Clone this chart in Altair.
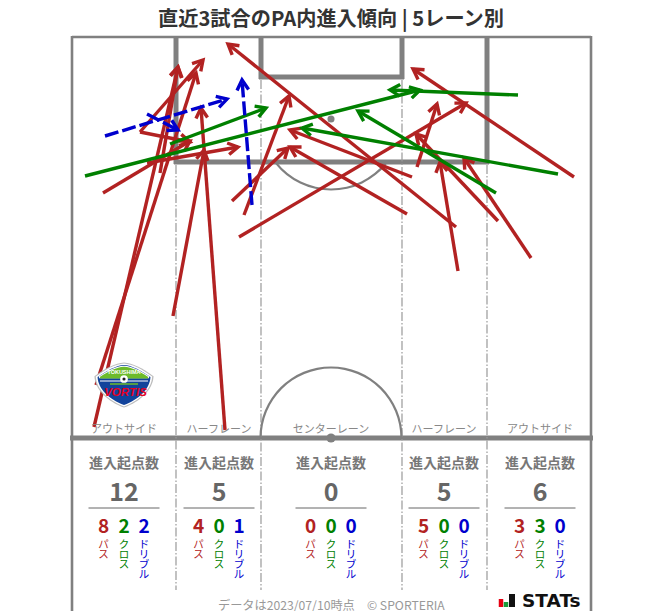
import math
import altair as alt
import pandas as pd

RED, GREEN, BLUE = "#b22222", "#008000", "#0000cd"
FIELD = "#808080"
FONT = "Noto Sans CJK JP"

# arrows: start x, start y, end x, end y (reading from the picture)
pass_arrows = [
    (94, 427, 178, 67), (96, 385, 196, 73), (140, 132, 203, 60), (140, 132, 190, 142),
    (103, 193, 190, 141), (147, 163, 238, 147), (160, 173, 178, 67),
    (173, 316, 204, 150), (225, 430, 201, 108), (232, 201, 288, 148), (244, 215, 289, 96),
    (239, 237, 466, 103), (407, 214, 290, 147), (412, 177, 290, 130), (456, 227, 228, 44),
    (417, 167, 437, 104), (498, 221, 416, 134), (458, 271, 440, 162),
    (531, 258, 464, 158), (574, 177, 413, 69),
]
cross_arrows = [
    (85, 176, 420, 90), (170, 144, 266, 108), (518, 95, 390, 90),
    (558, 174, 302, 128), (496, 193, 358, 111),
]
dribble_arrows = [
    (105, 136, 227, 99), (147, 114, 178, 130), (252, 205, 242, 80),
]

lane_centers = [124, 219, 331, 444, 540]
lane_names = ["アウトサイド", "ハーフレーン", "センターレーン", "ハーフレーン", "アウトサイド"]
totals = ["12", "5", "0", "5", "6"]
pass_counts = ["8", "4", "0", "5", "3"]
cross_counts = ["2", "0", "0", "0", "3"]
dribble_counts = ["2", "1", "0", "0", "0"]
kinds = [("パ|ス", RED, -20.5), ("ク|ロ|ス", GREEN, 0), ("ド|リ|ブ|ル", BLUE, 20)]

X = alt.Scale(domain=[8, 655], range=[0, 647], nice=False, zero=False)
Y = alt.Scale(domain=[8, 611], range=[0, 603], nice=False, zero=False)
xe = lambda f="x": alt.X(f"{f}:Q", scale=X, axis=None)
ye = lambda f="y": alt.Y(f"{f}:Q", scale=Y, axis=None)

def segs(rows, color, width, dash=None):
    df = pd.DataFrame(rows, columns=["x", "y", "x2", "y2"])
    kw = dict(color=color, strokeWidth=width, strokeCap="butt")
    if dash:
        kw["strokeDash"] = dash
    return alt.Chart(df).mark_rule(**kw).encode(x=xe(), y=ye(), x2="x2:Q", y2="y2:Q")

def arrows(rows, color, dash=None):
    df = pd.DataFrame(rows, columns=["x", "y", "x2", "y2"])
    df["angle"] = [(math.degrees(math.atan2(r[2] - r[0], r[1] - r[3])) + 360) % 360 for r in rows]
    line = segs(rows, color, 3.4, dash)
    head = alt.Chart(df).mark_point(
        shape="M-0.58,1L0,0L0.58,1", filled=False, color=color, opacity=1,
        strokeWidth=3.4, size=400, strokeJoin="miter",
    ).encode(x=xe("x2"), y=ye("y2"), angle=alt.Angle("angle:Q", scale=None))
    return line + head

def texts(df, **kw):
    kw.setdefault("font", FONT)
    kw.setdefault("align", "center")
    kw.setdefault("baseline", "middle")
    kw.setdefault("dy", 1.5)
    return alt.Chart(pd.DataFrame(df)).mark_text(**kw).encode(x=xe(), y=ye(), text="t:N")

layers = []
# field
layers += [
    segs([(72, 37, 591, 37)], FIELD, 2.6),
    segs([(72, 36, 72, 611), (591, 36, 591, 611)], FIELD, 2.6),
    segs([(176, 37, 176, 164), (487, 37, 487, 164), (261, 37, 261, 79), (402, 37, 402, 79)], FIELD, 5),
    segs([(174, 162, 489, 162), (259, 77, 404, 77), (70, 438, 593, 438)], FIELD, 5),
    segs([(176, 165, 176, 590), (487, 165, 487, 590), (261, 80, 261, 590), (402, 80, 402, 590)],
         "#999999", 1.2, [9, 2, 1.5, 2]),
]
arc = lambda cx, cy, r, a, b: alt.Chart(pd.DataFrame({"x": [cx], "y": [cy]})).mark_arc(
    radius=r + 1.1, radius2=r - 1.1, theta=a, theta2=b, color=FIELD).encode(x=xe(), y=ye())
layers += [
    arc(331, 438, 70.5, 3 * math.pi / 2, 5 * math.pi / 2),
    arc(331, 119, 70.5, 2.24, 4.04),
    alt.Chart(pd.DataFrame({"x": [331, 331], "y": [119, 438], "s": [50, 85]})).mark_point(
        filled=True, color=FIELD, opacity=1).encode(x=xe(), y=ye(), size=alt.Size("s:Q", scale=None, legend=None)),
]
# arrows
layers += [arrows(pass_arrows, RED), arrows(cross_arrows, GREEN), arrows(dribble_arrows, BLUE, [14, 4])]

# logo: a flat shield with a green crest and a blue body
logo_df = pd.DataFrame({"x": [124], "y": [385]})
shield = "M-1,-0.3C-0.6,-0.58 -0.3,-0.74 0,-0.76C0.3,-0.74 0.6,-0.58 1,-0.3C0.98,0.15 0.55,0.56 0,0.76C-0.55,0.56 -0.98,0.15 -1,-0.3Z"
crest = "M-0.9,-0.3C-0.55,-0.52 -0.3,-0.66 0,-0.68C0.3,-0.66 0.55,-0.52 0.9,-0.3L0.88,-0.24L-0.88,-0.24Z"
mark = lambda shape, size, col: alt.Chart(logo_df).mark_point(
    shape=shape, filled=True, color=col, opacity=1, size=size).encode(x=xe(), y=ye())
layers += [
    mark(shield, 3500, "#bdbdbd"),
    mark(shield, 3180, "#ffffff"),
    mark(shield, 2800, "#12439b"),
    mark(crest, 3180, "#ffffff"),
    mark(crest, 2900, "#6cbb2a"),
    segs([(100, 381, 148, 381)], "#ffffff", 1.2),
    segs([(110, 384, 138, 384)], "#6cbb2a", 1.5),
    texts({"x": [124], "y": [372], "t": ["TOKUSHIMA"]}, font="Liberation Sans", fontSize=5.5, fontWeight="bold", color="#ffffff", dy=0),
    alt.Chart(pd.DataFrame({"x": [124], "y": [379]})).mark_point(filled=True, color="#ffffff", opacity=1, size=60).encode(x=xe(), y=ye()),
    alt.Chart(pd.DataFrame({"x": [124], "y": [379]})).mark_point(filled=True, color="#222222", opacity=1, size=10).encode(x=xe(), y=ye()),
    texts({"x": [125.5], "y": [393], "t": ["VORTIS"]}, font="Liberation Sans", fontSize=11.5, fontWeight="bold", fontStyle="italic", color="#e60023", dy=0),
]

# titles and tallies
layers += [
    texts({"x": [331], "y": [18], "t": ["直近3試合のPA内進入傾向 | 5レーン別"]}, fontSize=20.2, fontWeight="bold", color="#333333"),
    texts({"x": lane_centers, "y": [428] * 5, "t": lane_names}, fontSize=11, color="#888888"),
    texts({"x": lane_centers, "y": [462] * 5, "t": ["進入起点数"] * 5}, fontSize=14, fontWeight="bold", color="#777777"),
    texts({"x": lane_centers, "y": [491] * 5, "t": totals}, fontSize=25, fontWeight="bold", color="#666666"),
    segs([(c - 35.5, 508, c + 35.5, 508) for c in lane_centers], "#666666", 1),
]
for (label, col, off), counts in zip(kinds, [pass_counts, cross_counts, dribble_counts]):
    layers.append(texts({"x": [c + off for c in lane_centers], "y": [526] * 5, "t": counts},
                        fontSize=19, fontWeight="bold", color=col, dy=0.5))
    layers.append(texts({"x": [c + off for c in lane_centers], "y": [543] * 5, "t": [label] * 5},
                        fontSize=10.5, color=col, lineBreak="|", lineHeight=10, baseline="top", dy=-3))

# footer
layers += [
    texts({"x": [218], "y": [604], "t": ["データは2023/07/10時点"]}, fontSize=12.2, align="left", color="#999999"),
    texts({"x": [367], "y": [604], "t": ["© SPORTERIA"]}, fontSize=12.2, align="left", color="#999999"),
    texts({"x": [522], "y": [607], "t": ["STATs"]}, font="DejaVu Sans", align="left", baseline="alphabetic", dy=0,
          fontSize=18.5, fontWeight="bold", color="#111111"),
    segs([(501, 599, 501, 607)], "#e60012", 4.5),
    segs([(506, 602, 506, 607)], "#1a9c3a", 4.5),
    segs([(512, 594, 512, 607)], "#111111", 6),
]

chart = alt.layer(*layers).properties(width=647, height=603, padding=0, autosize=alt.AutoSizeParams(type="none")).configure_view(stroke=None)
chart.save("out.html", embed_options={"renderer": "svg", "actions": False})
